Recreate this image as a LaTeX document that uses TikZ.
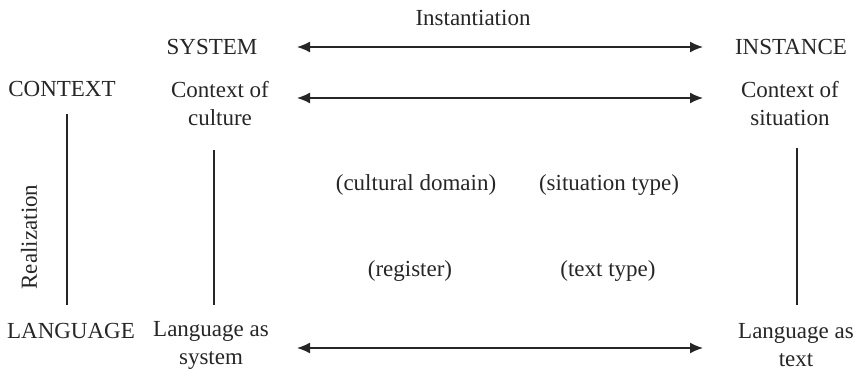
\documentclass[tikz,border=0pt]{standalone}
\usepackage{fontspec}
\setmainfont{Liberation Serif}
\usetikzlibrary{arrows.meta}
\begin{document}
\begin{tikzpicture}[x=1pt,y=-1pt,
  lbl/.style={font=\fontsize{23}{28}\selectfont, align=center, inner sep=0pt, text=black!85},
  conn/.style={line width=1.5pt, draw=black!85},
  biarrow/.style={conn, {Latex[length=13pt,width=11pt]}-{Latex[length=13pt,width=11pt]}}]
\useasboundingbox (0,0) rectangle (855,371);
\node[lbl] (inst) at (473,18) {Instantiation};
\node[lbl] (sys) at (212,47) {SYSTEM};
\node[lbl] (ins) at (791,47) {INSTANCE};
\node[lbl] (ctx) at (62,89) {CONTEXT};
\node[lbl] (coc) at (220,104) {Context of\\culture};
\node[lbl] (cos) at (790,104) {Context of\\situation};
\node[lbl] (cd) at (416,185) {(cultural domain)};
\node[lbl] (st) at (609,185) {(situation type)};
\node[lbl] (reg) at (410,271) {(register)};
\node[lbl] (tt) at (608,271) {(text type)};
\node[lbl] (lang) at (71,331) {LANGUAGE};
\node[lbl] (las) at (211,345) {Language as\\system};
\node[lbl] (lat) at (796,345) {Language as\\text};
\node[lbl, rotate=90] (real) at (29,237) {Realization};
\coordinate (a1l) at (297,47); \coordinate (a1r) at (703,47);
\coordinate (a2l) at (297,98); \coordinate (a2r) at (703,98);
\coordinate (a3l) at (297,348); \coordinate (a3r) at (703,348);
\draw[biarrow] (a1l) -- (a1r);
\draw[biarrow] (a2l) -- (a2r);
\draw[biarrow] (a3l) -- (a3r);
\coordinate (v1t) at (67,114); \coordinate (v1b) at (67,305);
\coordinate (v2t) at (214,150); \coordinate (v2b) at (214,305);
\coordinate (v3t) at (797,148); \coordinate (v3b) at (797,305);
\draw[conn] (v1t) -- (v1b);
\draw[conn] (v2t) -- (v2b);
\draw[conn] (v3t) -- (v3b);
\end{tikzpicture}
\end{document}
